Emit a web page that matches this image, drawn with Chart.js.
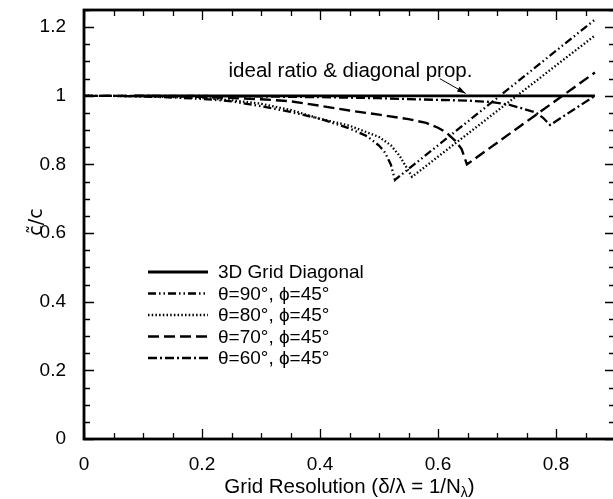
<!DOCTYPE html>
<html>
<head>
<meta charset="utf-8">
<script src="https://cdn.jsdelivr.net/npm/chart.js@4.4.1/dist/chart.umd.min.js"></script>
<style>
  html, body { margin: 0; padding: 0; background: #fff; overflow: hidden; }
  #wrap { position: relative; width: 620px; height: 499px; }
</style>
</head>
<body>
<div id="wrap"><canvas id="grafico"></canvas></div>
<script>
// valores (c~/c vs resolução da grade)
const diagX = [0.085, 0.866];
const diagY = [1, 1];

const t90X = [0, 0.05, 0.1, 0.15, 0.2, 0.25, 0.3, 0.35, 0.4, 0.45, 0.48, 0.5, 0.51, 0.52, 0.527, 0.866];
const t90Y = [1, 0.9998, 0.998, 0.995, 0.991, 0.984, 0.97, 0.953, 0.933, 0.905, 0.882, 0.855, 0.835, 0.8, 0.755, 1.222];

const t80X = [0, 0.1, 0.2, 0.25, 0.3, 0.35, 0.4, 0.45, 0.5, 0.52, 0.535, 0.547, 0.556, 0.866];
const t80Y = [1, 0.999, 0.994, 0.987, 0.977, 0.959, 0.933, 0.913, 0.88, 0.856, 0.825, 0.79, 0.764, 1.176];

const t70X = [0, 0.1, 0.2, 0.3, 0.35, 0.4, 0.45, 0.5, 0.55, 0.58, 0.6, 0.615, 0.63, 0.64, 0.649, 0.866];
const t70Y = [1, 0.9995, 0.997, 0.99, 0.984, 0.971, 0.957, 0.945, 0.932, 0.921, 0.907, 0.892, 0.868, 0.845, 0.8, 1.068];

const t60X = [0, 0.2, 0.3, 0.4, 0.5, 0.6, 0.65, 0.69, 0.72, 0.745, 0.765, 0.778, 0.79, 0.866];
const t60Y = [1, 0.9995, 0.998, 0.996, 0.993, 0.988, 0.986, 0.982, 0.974, 0.962, 0.952, 0.936, 0.915, 1.0];

const rotulos = ["3D Grid Diagonal", "θ=90°, ϕ=45°", "θ=80°, ϕ=45°", "θ=70°, ϕ=45°", "θ=60°, ϕ=45°"];

const FONTE = "'Liberation Sans', Arial, Helvetica, sans-serif";
Chart.defaults.font.family = FONTE;
Chart.defaults.font.size = 19;
Chart.defaults.color = "#000";

const pontos = (xs, ys) => xs.map((x, i) => ({ x, y: ys[i] }));

function serie(label, xs, ys, dash, largura) {
  return {
    label,
    data: pontos(xs, ys),
    borderColor: "#000",
    borderWidth: largura,
    borderDash: dash,
    borderCapStyle: "butt",
    pointRadius: 0,
    showLine: true,
    fill: false,
    tension: 0
  };
}

// moldura + marcas para dentro nos quatro lados
const moldura = {
  id: "moldura",
  afterDatasetsDraw(chart) {
    const { ctx, chartArea: a, scales: { x, y } } = chart;
    ctx.save();
    ctx.strokeStyle = "#000";
    ctx.lineWidth = 1.3;
    for (let i = 0; i <= 18; i++) {
      const v = i * 0.05;
      const px = Math.round(x.getPixelForValue(v)) + 0.5;
      const len = i % 4 === 0 ? 10 : 6;
      ctx.beginPath();
      ctx.moveTo(px, a.bottom); ctx.lineTo(px, a.bottom - len);
      ctx.moveTo(px, a.top); ctx.lineTo(px, a.top + len);
      ctx.stroke();
    }
    for (let i = 0; i <= 25; i++) {
      const v = i * 0.05;
      const py = Math.round(y.getPixelForValue(v)) + 0.5;
      const len = i % 4 === 0 ? 10 : 6;
      ctx.beginPath();
      ctx.moveTo(a.left, py); ctx.lineTo(a.left + len, py);
      ctx.moveTo(a.right, py); ctx.lineTo(a.right - len, py);
      ctx.stroke();
    }
    ctx.lineWidth = 2.8;
    ctx.strokeRect(a.left, a.top, a.right - a.left, a.bottom - a.top);
    ctx.restore();
  }
};

// legenda, anotação e títulos dos eixos
const textos = {
  id: "textos",
  afterDraw(chart) {
    const { ctx, chartArea: a, scales: { x, y } } = chart;
    ctx.save();
    ctx.fillStyle = "#000";
    ctx.strokeStyle = "#000";

    // legenda
    ctx.font = "19px " + FONTE;
    ctx.textBaseline = "middle";
    chart.data.datasets.forEach((ds, i) => {
      const ly = 272 + 21.5 * i;
      ctx.lineWidth = ds.borderWidth;
      ctx.setLineDash(ds.borderDash);
      ctx.beginPath();
      ctx.moveTo(148, ly); ctx.lineTo(208, ly);
      ctx.stroke();
      ctx.setLineDash([]);
      ctx.fillText(ds.label, 218, ly + 1);
    });

    // anotação
    ctx.font = "20.5px " + FONTE;
    ctx.fillText("ideal ratio & diagonal prop.", x.getPixelForValue(0.245), y.getPixelForValue(1.07));
    const x0 = x.getPixelForValue(0.603), y0 = y.getPixelForValue(1.05);
    const x1 = x.getPixelForValue(0.647), y1 = y.getPixelForValue(1.007);
    ctx.lineWidth = 1;
    ctx.beginPath(); ctx.moveTo(x0, y0); ctx.lineTo(x1, y1); ctx.stroke();
    const ang = Math.atan2(y1 - y0, x1 - x0);
    ctx.beginPath();
    ctx.moveTo(x1, y1);
    ctx.lineTo(x1 - 9 * Math.cos(ang - 0.3), y1 - 9 * Math.sin(ang - 0.3));
    ctx.lineTo(x1 - 9 * Math.cos(ang + 0.3), y1 - 9 * Math.sin(ang + 0.3));
    ctx.closePath(); ctx.fill();

    // título eixo x com subscrito
    const fT = "20.5px " + FONTE, fS = "14px " + FONTE;
    ctx.font = fT;
    ctx.textBaseline = "alphabetic";
    const t1 = "Grid Resolution (δ/λ = 1/N", sub = "λ", t2 = ")";
    const w1 = ctx.measureText(t1).width, w2 = ctx.measureText(t2).width;
    ctx.font = fS;
    const ws = ctx.measureText(sub).width;
    const tx = (a.left + a.right) / 2 - (w1 + ws + w2) / 2;
    const base = 493;
    ctx.font = fT;
    ctx.fillText(t1, tx, base);
    ctx.font = fS;
    ctx.fillText(sub, tx + w1, base + 4);
    ctx.font = fT;
    ctx.fillText(t2, tx + w1 + ws, base);

    // título eixo y
    ctx.translate(37, 222);
    ctx.rotate(-Math.PI / 2);
    ctx.textAlign = "center";
    ctx.textBaseline = "middle";
    ctx.font = "19px 'DejaVu Sans', " + FONTE;
    ctx.fillText("c\u0303/c", 0, 0);
    ctx.restore();
  }
};

const fmt = v => String(+v.toFixed(2));
const semPadding = s => { s.paddingTop = 0; s.paddingBottom = 0; s.paddingLeft = 0; s.paddingRight = 0; };

new Chart(document.getElementById("grafico"), {
  type: "scatter",
  data: {
    datasets: [
      serie(rotulos[0], diagX, diagY, [], 2.8),
      serie(rotulos[1], t90X, t90Y, [8, 3, 1.5, 3, 1.5, 3], 2.3),
      serie(rotulos[2], t80X, t80Y, [1.5, 2.2], 2.3),
      serie(rotulos[3], t70X, t70Y, [11, 5], 2.4),
      serie(rotulos[4], t60X, t60Y, [9, 3, 2, 3], 2.3)
    ]
  },
  options: {
    responsive: true,
    maintainAspectRatio: false,
    animation: false,
    layout: { padding: { top: 10, right: 5, left: 0, bottom: 0 } },
    plugins: { legend: { display: false }, tooltip: { enabled: false } },
    scales: {
      x: {
        type: "linear", min: 0, max: 0.9,
        grid: { display: false }, border: { display: false },
        ticks: { stepSize: 0.2, includeBounds: false, padding: 6, callback: fmt, maxRotation: 0 },
        afterFit: s => { s.height = 60; semPadding(s); }
      },
      y: {
        type: "linear", min: 0, max: 1.25,
        grid: { display: false }, border: { display: false },
        ticks: { stepSize: 0.2, includeBounds: false, padding: 10, callback: fmt },
        afterFit: s => { s.width = 84; semPadding(s); }
      }
    }
  },
  plugins: [moldura, textos]
});
</script>
</body>
</html>
